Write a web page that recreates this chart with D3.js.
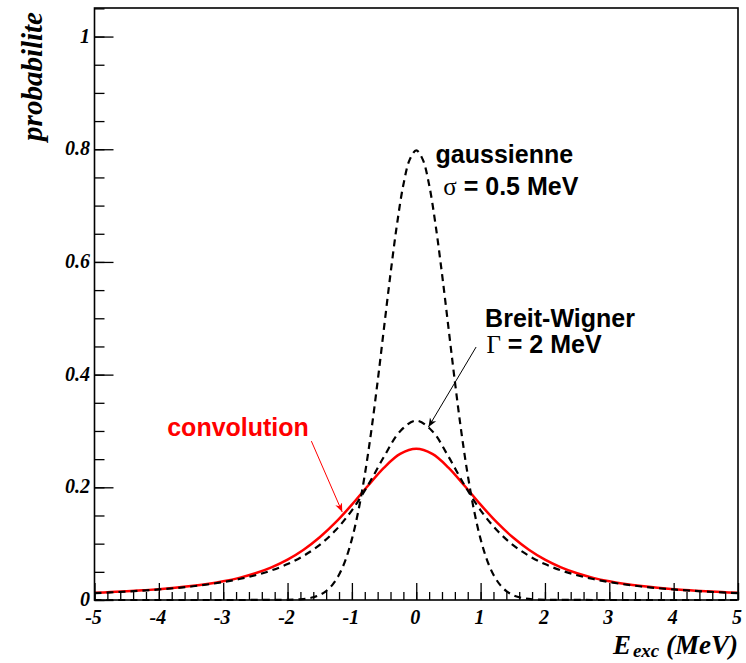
<!DOCTYPE html>
<html>
<head>
<meta charset="utf-8">
<script src="https://cdn.jsdelivr.net/npm/d3@7"></script>
<style>
  html, body { margin: 0; padding: 0; background: #fff; }
  svg { display: block; }
  .serif { font-family: "Liberation Serif", "Times New Roman", serif; font-weight: bold; font-style: italic; }
  .sans { font-family: "Liberation Sans", Arial, sans-serif; font-weight: bold; }
</style>
</head>
<body>
<svg id="chart" width="746" height="663"></svg>
<script>
// ---- data ----
const xTicks = [-5, -4, -3, -2, -1, 0, 1, 2, 3, 4, 5];
const yTicks = [0, 0.2, 0.4, 0.6, 0.8, 1];
const yTickLabels = ["0", "0.2", "0.4", "0.6", "0.8", "1"];

// Gaussian, sigma = 0.5 MeV
const xGauss = [-5, -2.0, -1.9, -1.8, -1.7, -1.6, -1.5, -1.4, -1.3, -1.2, -1.1, -1.0,
  -0.9, -0.8, -0.7, -0.6, -0.5, -0.4, -0.3, -0.2, -0.1, 0,
  0.1, 0.2, 0.3, 0.4, 0.5, 0.6, 0.7, 0.8, 0.9, 1.0,
  1.1, 1.2, 1.3, 1.4, 1.5, 1.6, 1.7, 1.8, 1.9, 2.0, 5];
const yGauss = [0, 0.0003, 0.0006, 0.0012, 0.0025, 0.0048, 0.0089, 0.0158, 0.0272, 0.0448, 0.0709, 0.108,
  0.158, 0.222, 0.299, 0.388, 0.484, 0.579, 0.666, 0.737, 0.782, 0.798,
  0.782, 0.737, 0.666, 0.579, 0.484, 0.388, 0.299, 0.222, 0.158, 0.108,
  0.0709, 0.0448, 0.0272, 0.0158, 0.0089, 0.0048, 0.0025, 0.0012, 0.0006, 0.0003, 0];

// Breit-Wigner, Gamma = 2 MeV
const xBW = [-5, -4.75, -4.5, -4.25, -4, -3.75, -3.5, -3.25, -3, -2.75, -2.5, -2.25, -2, -1.75, -1.5, -1.25, -1, -0.75, -0.5, -0.25,
  0, 0.25, 0.5, 0.75, 1, 1.25, 1.5, 1.75, 2, 2.25, 2.5, 2.75, 3, 3.25, 3.5, 3.75, 4, 4.25, 4.5, 4.75, 5];
const yBW = [0.0122, 0.0135, 0.0150, 0.0167, 0.0187, 0.0211, 0.0240, 0.0275, 0.0318, 0.0372, 0.0439, 0.0525, 0.0637, 0.0784, 0.0979, 0.1242, 0.1592, 0.2037, 0.2546, 0.2996,
  0.3183, 0.2996, 0.2546, 0.2037, 0.1592, 0.1242, 0.0979, 0.0784, 0.0637, 0.0525, 0.0439, 0.0372, 0.0318, 0.0275, 0.0240, 0.0211, 0.0187, 0.0167, 0.0150, 0.0135, 0.0122];

// Convolution
const xConv = xBW;
const yConv = [0.0127, 0.0140, 0.0154, 0.0172, 0.0192, 0.0217, 0.0247, 0.0284, 0.0332, 0.0393, 0.0474, 0.0579, 0.0716, 0.0892, 0.1113, 0.1381, 0.1692, 0.2028, 0.2350, 0.2592,
  0.2684, 0.2592, 0.2350, 0.2028, 0.1692, 0.1381, 0.1113, 0.0892, 0.0716, 0.0579, 0.0474, 0.0393, 0.0332, 0.0284, 0.0247, 0.0217, 0.0192, 0.0172, 0.0154, 0.0140, 0.0127];

// ---- layout ----
const svg = d3.select("#chart");
const L = 94.5, R = 738, T = 8, B = 600;
const x = d3.scaleLinear().domain([-5, 5]).range([L, R]);
const y = d3.scaleLinear().domain([0, 1.0507]).range([B, T]);

// arrow markers
const defs = svg.append("defs");
function marker(id, color) {
  defs.append("marker").attr("id", id).attr("viewBox", "0 0 10 10")
    .attr("refX", 10).attr("refY", 5).attr("markerWidth", 9).attr("markerHeight", 9)
    .attr("markerUnits", "userSpaceOnUse").attr("orient", "auto")
    .append("path").attr("d", "M0,1 L10,5 L0,9 L3,5 Z").attr("fill", color);
}
marker("arrBlack", "#000");
marker("arrRed", "#ff0000");

// ---- curves ----
const line = d3.line().x(d => x(d[0])).y(d => y(d[1])).curve(d3.curveCatmullRom.alpha(0.5));
const g = svg.append("g");
g.append("path").datum(d3.zip(xConv, yConv)).attr("d", line)
  .attr("fill", "none").attr("stroke", "#ff0000").attr("stroke-width", 2.5);
g.append("path").datum(d3.zip(xBW, yBW)).attr("d", line)
  .attr("fill", "none").attr("stroke", "#000").attr("stroke-width", 2.2).attr("stroke-dasharray", "7,5");
g.append("path").datum(d3.zip(xGauss, yGauss)).attr("d", line)
  .attr("fill", "none").attr("stroke", "#000").attr("stroke-width", 2.2).attr("stroke-dasharray", "7,5");

// ---- axes ----
const xMinor = d3.range(-5, 5.0001, 0.2).map(v => +v.toFixed(2));
const yMinor = d3.range(0, 1.0501, 0.05).map(v => +v.toFixed(2));

const xAxisMinor = d3.axisTop(x).tickValues(xMinor).tickSize(8).tickFormat("");
const xAxisMajor = d3.axisTop(x).tickValues(xTicks).tickSize(17).tickFormat("");
const yAxisMinor = d3.axisRight(y).tickValues(yMinor).tickSize(10).tickFormat("");
const yAxisMajor = d3.axisRight(y).tickValues(yTicks).tickSize(19).tickFormat("");

[xAxisMinor, xAxisMajor].forEach(a => {
  const ax = svg.append("g").attr("transform", `translate(0,${B})`).call(a);
  ax.select(".domain").remove();
  ax.selectAll("line").attr("stroke", "#000").attr("stroke-width", 1.3);
});
[yAxisMinor, yAxisMajor].forEach(a => {
  const ax = svg.append("g").attr("transform", `translate(${L},0)`).call(a);
  ax.select(".domain").remove();
  ax.selectAll("line").attr("stroke", "#000").attr("stroke-width", 1.3);
});

// frame
svg.append("rect").attr("x", L).attr("y", T).attr("width", R - L).attr("height", B - T)
  .attr("fill", "none").attr("stroke", "#000").attr("stroke-width", 1.6);

// tick labels
svg.append("g").selectAll("text").data(xTicks).join("text")
  .attr("class", "serif").attr("x", d => x(d) - 1).attr("y", 624)
  .attr("text-anchor", "middle").attr("font-size", 20).text(d => d);
svg.append("g").selectAll("text").data(yTicks).join("text")
  .attr("class", "serif").attr("x", 90).attr("y", d => y(d) + 6)
  .attr("text-anchor", "end").attr("font-size", 20).text((d, i) => yTickLabels[i]);

// axis titles
const xt = svg.append("text").attr("class", "serif").attr("x", R).attr("y", 654)
  .attr("text-anchor", "end").attr("font-size", 27);
xt.append("tspan").text("E");
xt.append("tspan").attr("font-size", 19).attr("dy", 3).attr("dx", 2).text("exc");
xt.append("tspan").attr("dy", -3).text(" (MeV)");

svg.append("text").attr("class", "serif")
  .attr("transform", `translate(42,12) rotate(-90)`)
  .attr("text-anchor", "end").attr("font-size", 29).text("probabilite");

// annotations
svg.append("text").attr("class", "sans").attr("x", x(0.30)).attr("y", y(0.776))
  .attr("font-size", 25).text("gaussienne");
const sg = svg.append("text").attr("class", "sans").attr("x", x(0.42)).attr("y", y(0.719)).attr("font-size", 25);
sg.append("tspan").attr("font-family", "Liberation Serif, serif").attr("font-weight", "normal").text("σ");
sg.append("tspan").text(" = 0.5 MeV");

svg.append("text").attr("class", "sans").attr("x", x(1.07)).attr("y", y(0.484))
  .attr("font-size", 25).text("Breit-Wigner");
const gm = svg.append("text").attr("class", "sans").attr("x", x(1.09)).attr("y", y(0.438)).attr("font-size", 25);
gm.append("tspan").attr("font-family", "Liberation Serif, serif").attr("font-weight", "normal").text("Γ");
gm.append("tspan").text(" = 2 MeV");

svg.append("line").attr("x1", x(0.93)).attr("y1", y(0.449)).attr("x2", x(0.19)).attr("y2", y(0.307))
  .attr("stroke", "#000").attr("stroke-width", 1).attr("marker-end", "url(#arrBlack)");

svg.append("text").attr("class", "sans").attr("x", x(-3.87)).attr("y", y(0.291))
  .attr("font-size", 25).attr("fill", "#ff0000").text("convolution");
svg.append("line").attr("x1", x(-1.63)).attr("y1", y(0.282)).attr("x2", x(-1.15)).attr("y2", y(0.156))
  .attr("stroke", "#ff0000").attr("stroke-width", 1).attr("marker-end", "url(#arrRed)");
</script>
</body>
</html>
